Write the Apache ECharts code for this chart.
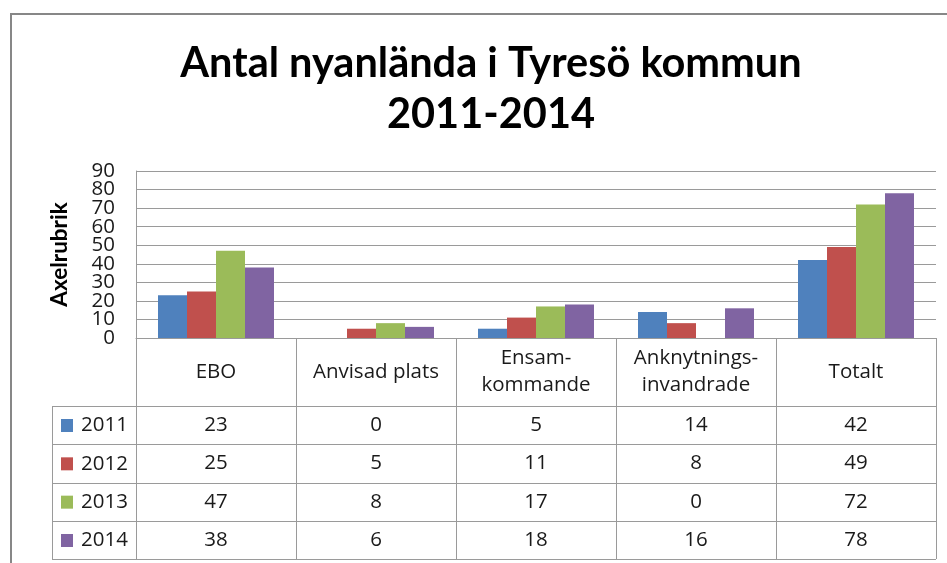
<!DOCTYPE html>
<html><head><meta charset="utf-8">
<script src="https://cdn.jsdelivr.net/npm/echarts@6/dist/echarts.min.js"></script>
<style>html,body{margin:0;padding:0;background:#fff}#c{width:947px;height:563px}</style>
</head><body><div id="c"></div>
<script>
const categories = ['EBO', 'Anvisad plats', 'Ensam-\nkommande', 'Anknytnings-\ninvandrade', 'Totalt'];
const years = ['2011', '2012', '2013', '2014'];
const v2011 = [23, 0, 5, 14, 42];
const v2012 = [25, 5, 11, 8, 49];
const v2013 = [47, 8, 17, 0, 72];
const v2014 = [38, 6, 18, 16, 78];
const seriesValues = [v2011, v2012, v2013, v2014];
const yMin = 0, yMax = 90, yStep = 10;
const colors = ['#4F81BD', '#C0504D', '#9BBB59', '#8064A2'];

const TFONT = 'Lato';
const FONT = 'Open Sans';
const FS = 20.5;
const LINE = '#9a9a9a';
const TXT = '#1a1a1a';

const chart = echarts.init(document.getElementById('c'), null, {renderer: 'canvas'});
// two overlaid value axes share the tick labels (alternating) so that none is dropped for density
const labelCfg = (keepOdd) => ({
  margin: 21, interval: 0, fontFamily: FONT, fontSize: FS, lineHeight: 17, color: TXT,
  showMinLabel: true, showMaxLabel: true, hideOverlap: false,
  formatter: (v) => ((Math.round(v / yStep) % 2 === 1) === keepOdd ? String(v) : '')
});
const option = {
  animation: false,
  textStyle: {fontFamily: FONT},
  title: {
    text: 'Antal nyanlända i Tyresö kommun\n2011-2014',
    left: 486, top: 33, textAlign: 'center',
    textStyle: {fontFamily: TFONT, fontWeight: 'bold', fontSize: 41.5, lineHeight: 51, color: '#000'}
  },
  grid: {left: 136, top: 171, width: 800, height: 167, containLabel: false},
  legend: {
    data: years, orient: 'vertical', left: 61, top: 413.5, padding: 0,
    itemWidth: 12, itemHeight: 13, itemGap: 14.33, icon: 'rect',
    textStyle: {fontFamily: FONT, fontSize: FS, lineHeight: 24, color: TXT, padding: [0, 0, 0, 3]},
    selectedMode: false
  },
  xAxis: {
    type: 'category', data: categories,
    axisLine: {show: true, lineStyle: {color: LINE, width: 1}},
    axisTick: {show: true, length: 221, lineStyle: {color: LINE, width: 1}},
    axisLabel: {margin: 34, verticalAlign: 'middle', fontFamily: FONT, fontSize: FS, lineHeight: 27, color: TXT, interval: 0}
  },
  yAxis: [{
    type: 'value', min: yMin, max: yMax, interval: yStep, position: 'left',
    name: 'Axelrubrik', nameLocation: 'middle', nameGap: 65, nameRotate: 90,
    nameTextStyle: {fontFamily: TFONT, fontWeight: 'bold', fontSize: 22.5, color: '#000'},
    axisLine: {show: true, lineStyle: {color: LINE, width: 1}},
    axisTick: {show: false},
    axisLabel: labelCfg(false),
    splitLine: {show: true, lineStyle: {color: LINE, width: 1}}
  }, {
    type: 'value', min: yMin, max: yMax, interval: yStep, position: 'left', offset: 0,
    axisLine: {show: false}, axisTick: {show: false}, splitLine: {show: false},
    axisLabel: labelCfg(true)
  }],
  series: years.map((y, i) => ({
    name: y, type: 'bar', data: seriesValues[i], yAxisIndex: 0,
    itemStyle: {color: colors[i]},
    barGap: '0%', barCategoryGap: '27.5%'
  }))
};
chart.setOption(option);

// Data table drawn beneath the plot, positioned from the axes
const y0 = chart.convertToPixel({yAxisIndex: 0}, 0);
const xRight = chart.convertToPixel({xAxisIndex: 0}, categories.length - 1) + 80;
const headerBottom = y0 + 68;
const rowH = 38.33;
const legendLeft = 52;
const g = [];
g.push({type: 'rect', shape: {x: 11, y: 14, width: 1000, height: 1000}, style: {fill: 'none', stroke: '#878787', lineWidth: 2}, z: 0, silent: true});
for (let r = 0; r <= years.length; r++) {
  const yy = Math.round(headerBottom + r * rowH) + 0.5;
  g.push({type: 'line', shape: {x1: legendLeft, y1: yy, x2: xRight, y2: yy}, style: {stroke: LINE, lineWidth: 1}, silent: true});
}
g.push({type: 'line', shape: {x1: legendLeft + 0.5, y1: headerBottom, x2: legendLeft + 0.5, y2: Math.round(headerBottom + years.length * rowH) + 0.5}, style: {stroke: LINE, lineWidth: 1}, silent: true});
seriesValues.forEach((vals, r) => {
  vals.forEach((v, c) => {
    const cx = chart.convertToPixel({xAxisIndex: 0}, c);
    g.push({type: 'text', x: cx, y: headerBottom + (r + 0.5) * rowH, silent: true,
      style: {text: String(v), fontFamily: FONT, fontSize: FS, fill: TXT, align: 'center', verticalAlign: 'middle'}});
  });
});
chart.setOption({graphic: g});
</script></body></html>
